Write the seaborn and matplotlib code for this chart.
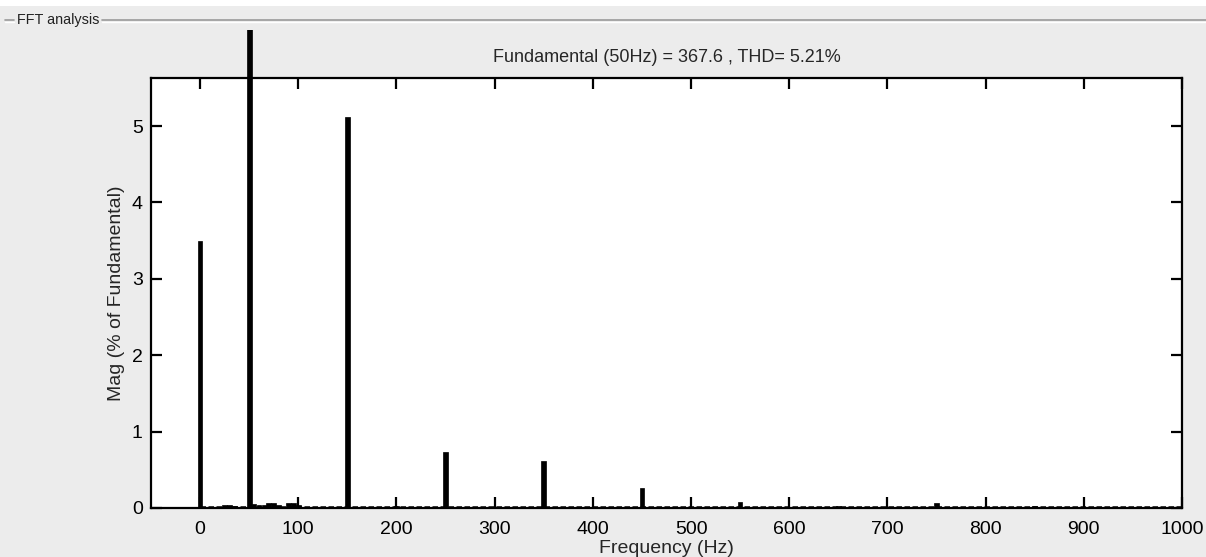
import numpy as np
import pandas as pd
import matplotlib
matplotlib.use("Agg")
import matplotlib.pyplot as plt
from matplotlib.patches import Rectangle
from matplotlib.lines import Line2D
import seaborn as sns

# ---- data ----
freq_hz = [0, 25, 30, 35, 50, 55, 60, 65, 70, 75, 80, 90, 95, 100,
           150, 200, 250, 350, 450, 550, 650, 750, 850]
mag_pct = [3.49, 0.035, 0.04, 0.03, 100.0, 0.05, 0.035, 0.04, 0.065, 0.065, 0.04, 0.06, 0.06, 0.04,
           5.12, 0.03, 0.73, 0.615, 0.26, 0.08, 0.02, 0.07, 0.03]
noise_floor = 0.012
x_ticks = [0, 100, 200, 300, 400, 500, 600, 700, 800, 900, 1000]
y_ticks = [0, 1, 2, 3, 4, 5]
title_text = "Fundamental (50Hz) = 367.6 , THD= 5.21%"
panel_label = "FFT analysis"

df = pd.DataFrame({"freq": freq_hz, "mag": mag_pct})

sns.set_style("ticks")
plt.rcParams["font.family"] = ["Liberation Sans", "DejaVu Sans"]

W, H = 1206, 557
bg = "#ececec"
fig = plt.figure(figsize=(W / 100, H / 100), dpi=100, facecolor=bg)
ax = fig.add_axes([151 / W, 1 - 508 / H, (1182 - 151) / W, (508 - 78) / H])
ax.set_facecolor("white")

sns.barplot(data=df, x="freq", y="mag", native_scale=True, width=0.95,
            color="black", edgecolor="black", linewidth=0.5,
            errorbar=None, ax=ax)

ax.set_xlim(-50, 1000)
ax.set_ylim(0, 5.63)
ax.hlines(noise_floor, 0, 1000, colors="black", linewidth=1.8,
          linestyles=(0, (2.2, 1.0)), zorder=1)

# bars exceeding the axes run up to the panel edge
clip_rect = Rectangle((0, 0), 1, (H - 29.5) / H, transform=fig.transFigure)
for p in ax.patches:
    if p.get_height() > 5.63:
        p.set_clip_on(True)
        p.set_clip_path(clip_rect)

ax.set_xticks(x_ticks)
ax.set_yticks(y_ticks)
ax.tick_params(direction="in", length=8, width=1.6, top=True, right=True,
               labelsize=14, colors="black")
ax.tick_params(axis="x", pad=9.5)
ax.tick_params(axis="y", pad=6)
for s in ax.spines.values():
    s.set_visible(True)
    s.set_linewidth(1.6)
    s.set_color("black")

ax.set_xlabel("Frequency (Hz)", fontsize=14, labelpad=1.5)
ax.set_ylabel("Mag (% of Fundamental)", fontsize=14, labelpad=5)
fig.text((151 + 1182) / 2 / W, 1 - 57 / H, title_text, ha="center", va="center", fontsize=13)

# panel frame decoration
fig.add_artist(Rectangle((0, 1 - 6 / H), 1, 6 / H, transform=fig.transFigure,
                         facecolor="white", edgecolor="none"))
ylin = 1 - 20 / H
for (x0, x1) in [(5, 14), (102, W)]:
    fig.add_artist(Line2D([x0 / W, x1 / W], [ylin, ylin], transform=fig.transFigure,
                          color="#9a9a9a", linewidth=1.2))
    fig.add_artist(Line2D([x0 / W, x1 / W], [ylin - 1.5 / H, ylin - 1.5 / H],
                          transform=fig.transFigure, color="white", linewidth=1.0))
fig.text(17 / W, ylin, panel_label, ha="left", va="center", fontsize=10.4, color="#222222")

fig.savefig("out.png", dpi=100, facecolor=bg)
